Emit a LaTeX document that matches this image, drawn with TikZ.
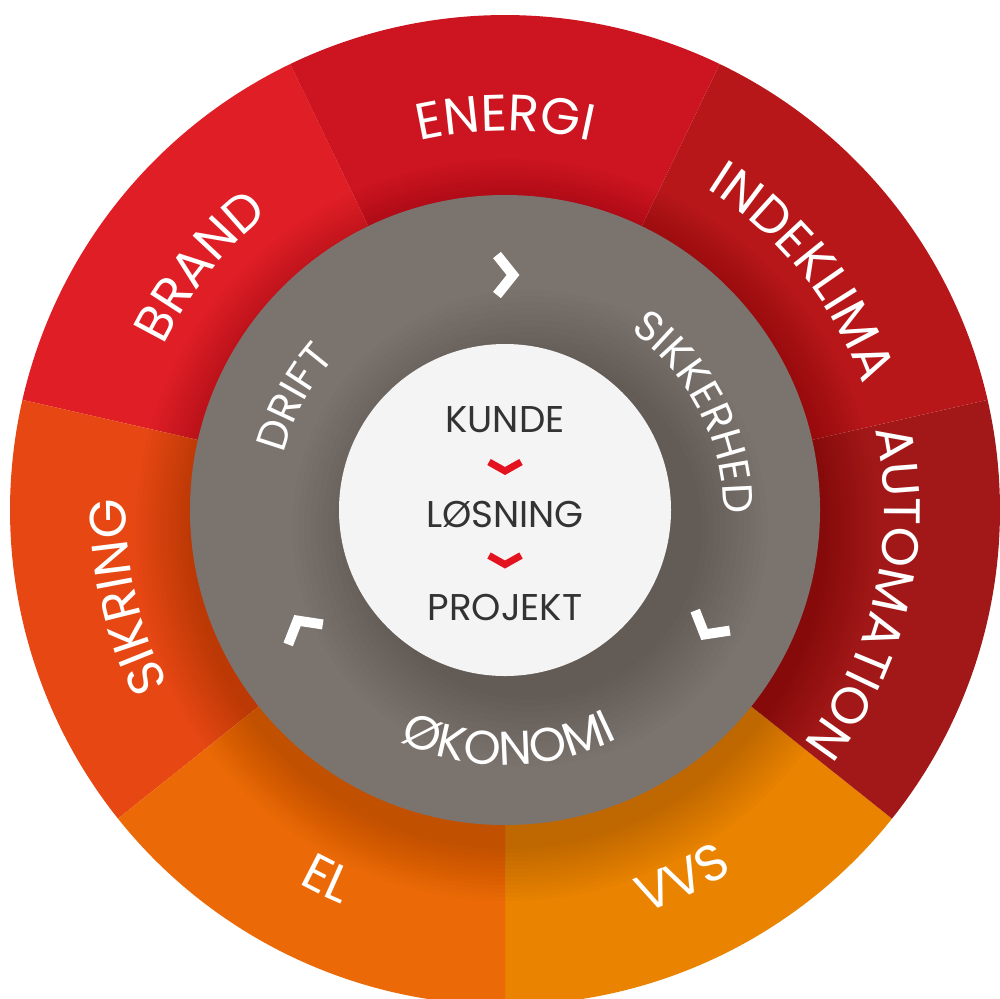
\documentclass[tikz,border=0pt]{standalone}
\usepackage{fontspec}
\setmainfont{Poppins}
\usetikzlibrary{calc,decorations.text}

\definecolor{energi}{HTML}{CC1520}
\definecolor{indeklima}{HTML}{B71719}
\definecolor{automation}{HTML}{A21818}
\definecolor{vvs}{HTML}{E98300}
\definecolor{el}{HTML}{EB6A07}
\definecolor{sikring}{HTML}{E64713}
\definecolor{brand}{HTML}{E01E26}
\definecolor{ringgray}{HTML}{7B736E}
\definecolor{core}{HTML}{F4F4F4}
\definecolor{coretext}{HTML}{333333}
\definecolor{corered}{HTML}{E3141F}

\newcommand\outerfont{\fontsize{14.6}{17}\selectfont}
\newcommand\ringfont{\fontsize{12}{14}\selectfont}
\newcommand\bigringfont{\fontsize{13.5}{16}\selectfont}
\newcommand\corefont{\fontsize{10.6}{13}\selectfont}

\tikzset{
    outerlabel/.style={decorate, decoration={text along path, text align=center, text color=white, text={|\outerfont|#1}}},
    ringlabel/.style={decorate, decoration={text along path, text align=center, text color=white, text={|\ringfont|#1}}},
    bigringlabel/.style={decorate, decoration={text along path, text align=center, text color=white, text={|\bigringfont|#1}}},
    corelabel/.style={font=\corefont, text=coretext, inner sep=0pt},
    chevron/.style={white, line width=0.1cm, line join=miter, line cap=butt},
    redchevron/.style={corered, line width=0.07cm, line join=miter, line cap=butt}
}

\begin{document}
\begin{tikzpicture}
    % Define the radii
    \def\R{4.95}
    \def\g{3.15}
    \def\w{1.66}

    \useasboundingbox (-5.05,-4.88) rectangle (4.95,5.10);
    \clip (-5.05,-4.88) rectangle (4.95,5.10);

    \coordinate (O) at (0,0);

    % Outer sectors, from the bottom going counterclockwise
    \foreach \s/\col in {270/vvs, 321.43/automation, 372.86/indeklima, 424.29/energi, 475.71/brand, 527.14/sikring, 578.57/el}
        \fill[\col] (O) -- (\s:\R) arc[start angle=\s, end angle=\s+51.43, radius=\R] -- cycle;

    % Soft shadow of the gray ring
    \foreach \i in {1,...,14}
        \fill[black, opacity=0.011] (0.02,-0.2) circle (\g+0.04*\i);

    % Gray ring
    \fill[ringgray] (O) circle (\g);

    % Soft shadow of the core
    \foreach \i in {1,...,12}
        \fill[black, opacity=0.011] (0.25,-0.18) circle (\w+0.06*\i);

    % White core
    \fill[core] (O) circle (\w);

    % Outer labels (top ones clockwise, bottom ones counterclockwise)
    \path[outerlabel=ENERGI] (130:3.79) arc[start angle=130, end angle=50, radius=3.79];
    \path[outerlabel=INDEKLIMA] (78.57:3.79) arc[start angle=78.57, end angle=-1.43, radius=3.79];
    \path[outerlabel=AUTOMATION] (27.14:3.79) arc[start angle=27.14, end angle=-52.86, radius=3.79];
    \path[outerlabel=BRAND] (181.43:3.79) arc[start angle=181.43, end angle=101.43, radius=3.79];
    \path[outerlabel=SIKRING] (232.86:3.79) arc[start angle=232.86, end angle=152.86, radius=3.79];
    \path[outerlabel=VVS] (-104.29:4.27) arc[start angle=-104.29, end angle=-24.29, radius=4.27];
    \path[outerlabel=EL] (-155.71:4.27) arc[start angle=-155.71, end angle=-75.71, radius=4.27];

    % Gray ring labels
    \path[ringlabel=SIKKERHED] (72:2.18) arc[start angle=72, end angle=-18, radius=2.18];
    \path[ringlabel=DRIFT] (197:2.28) arc[start angle=197, end angle=107, radius=2.28];
    \path[bigringlabel=ØKONOMI] (226:2.55) arc[start angle=226, end angle=316, radius=2.55];

    % Chevrons on the gray ring, pointing clockwise
    \foreach \a in {90,-30,210}
        \draw[chevron, shift={(\a:2.35)}, rotate=\a-90] (-0.08,0.2) -- (0.08,0) -- (-0.08,-0.2);

    % Core labels
    \node[corelabel] (kunde) at (0,0.90) {KUNDE};
    \node[corelabel] (losning) at (0,-0.04) {LØSNING};
    \node[corelabel] (projekt) at (0,-0.97) {PROJEKT};

    % Red chevrons between the core labels
    \foreach \u/\v in {kunde/losning, losning/projekt}
        \draw[redchevron] ($(\u)!0.5!(\v)$) ++(-0.16,0.05) -- ++(0.16,-0.09) -- ++(0.16,0.09);
\end{tikzpicture}
\end{document}
